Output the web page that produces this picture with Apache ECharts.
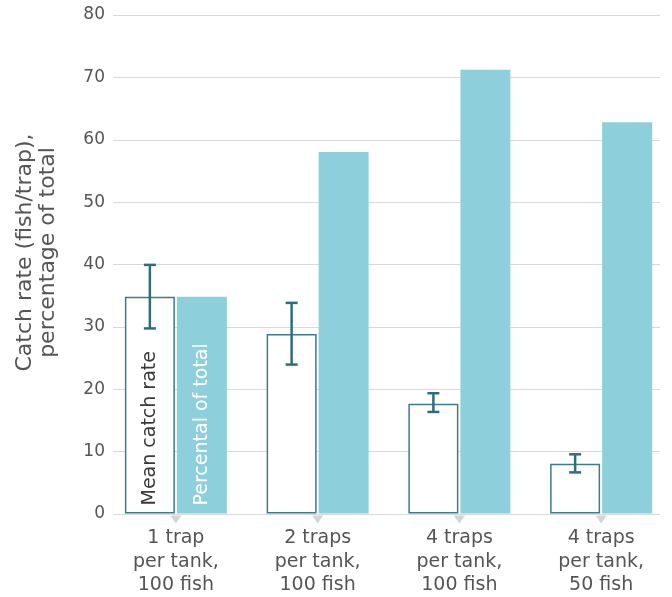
<!DOCTYPE html>
<html><head><meta charset="utf-8">
<script src="https://cdn.jsdelivr.net/npm/echarts@6/dist/echarts.min.js"></script>
<style>html,body{margin:0;padding:0;background:#fff}#c{width:672px;height:597px}</style>
</head><body><div id="c"></div>
<script>
const categories = ['1 trap\nper tank,\n100 fish', '2 traps\nper tank,\n100 fish', '4 traps\nper tank,\n100 fish', '4 traps\nper tank,\n50 fish'];
const meanCatchRate = [34.8, 28.8, 17.6, 8.0];
const errorLow = [29.7, 23.9, 16.3, 6.6];
const errorHigh = [39.9, 33.8, 19.3, 9.5];
const percentOfTotal = [34.8, 58.0, 71.2, 62.8];
const tickBase = [0, 0, 0, 0];
const seriesNames = ['Mean catch rate', 'Percental of total'];
const yAxisTitle = 'Catch rate (fish/trap),\npercentage of total';

const FONT = 'DejaVu Sans';
const TXT = '#555555';
const BAR_W = 50;
const GAP = 2;

const chart = echarts.init(document.getElementById('c'), null, {renderer: 'canvas'});

function labelFor(i, color) {
  return i === 0 ? {show: true, position: 'insideBottom', rotate: 90, align: 'left', verticalAlign: 'middle',
    distance: 8, color: color, fontFamily: FONT, fontSize: 19, formatter: '{a}'} : {show: false};
}

chart.setOption({
  animation: false,
  backgroundColor: '#ffffff',
  textStyle: {fontFamily: FONT},
  grid: [
    {left: 113, right: 12, top: 15, bottom: 83},
    {left: 105, width: 568, top: 15, bottom: 83}
  ],
  xAxis: [
    {gridIndex: 0, type: 'category', data: categories, show: false},
    {gridIndex: 1, type: 'category', data: categories,
      axisLine: {show: false}, axisTick: {show: false},
      axisLabel: {color: TXT, fontFamily: FONT, fontSize: 19, lineHeight: 23.5, margin: 13}}
  ],
  yAxis: [
    {gridIndex: 0, type: 'value', min: 0, max: 80, interval: 10,
      axisLine: {show: false}, axisTick: {show: false},
      axisLabel: {color: TXT, fontFamily: FONT, fontSize: 17, margin: 8},
      splitLine: {lineStyle: {color: '#d9d9d9', width: 1}},
      name: yAxisTitle, nameLocation: 'middle', nameGap: 53,
      nameTextStyle: {color: TXT, fontFamily: FONT, fontSize: 22, lineHeight: 23, padding: [0, 0, 0, 24]}},
    {gridIndex: 1, type: 'value', min: 0, max: 80, interval: 10, show: false}
  ],
  series: [
    {name: seriesNames[0], type: 'bar', xAxisIndex: 1, yAxisIndex: 1, barWidth: BAR_W, barGap: (GAP / BAR_W * 100) + '%',
      itemStyle: {color: '#ffffff', borderColor: '#3d7c88', borderWidth: 1.5},
      data: meanCatchRate.map((v, i) => ({value: v, label: labelFor(i, '#3a3a3a')}))},
    {name: seriesNames[1], type: 'bar', xAxisIndex: 1, yAxisIndex: 1, barWidth: BAR_W,
      itemStyle: {color: '#8dcfdb'},
      data: percentOfTotal.map((v, i) => ({value: v, label: labelFor(i, '#ffffff')}))},
    {type: 'custom', xAxisIndex: 1, yAxisIndex: 1, z: 5,
      data: errorLow.map((lo, i) => [i, lo, errorHigh[i]]),
      renderItem: function (params, api) {
        const off = -(BAR_W + GAP) / 2;
        const lo = api.coord([api.value(0), api.value(1)]);
        const hi = api.coord([api.value(0), api.value(2)]);
        const x = lo[0] + off;
        const cap = 6;
        const st = {stroke: '#2e6e7b', lineWidth: 2.5};
        return {type: 'group', children: [
          {type: 'line', shape: {x1: x, y1: lo[1], x2: x, y2: hi[1]}, style: st},
          {type: 'line', shape: {x1: x - cap, y1: lo[1], x2: x + cap, y2: lo[1]}, style: st},
          {type: 'line', shape: {x1: x - cap, y1: hi[1], x2: x + cap, y2: hi[1]}, style: st}
        ]};
      }},
    {type: 'scatter', xAxisIndex: 1, yAxisIndex: 1, symbol: 'triangle', symbolRotate: 180,
      symbolSize: [11, 8], symbolOffset: [0, 6], clip: false, silent: true,
      itemStyle: {color: '#c9c9c9'}, data: tickBase}
  ]
});
</script></body></html>
